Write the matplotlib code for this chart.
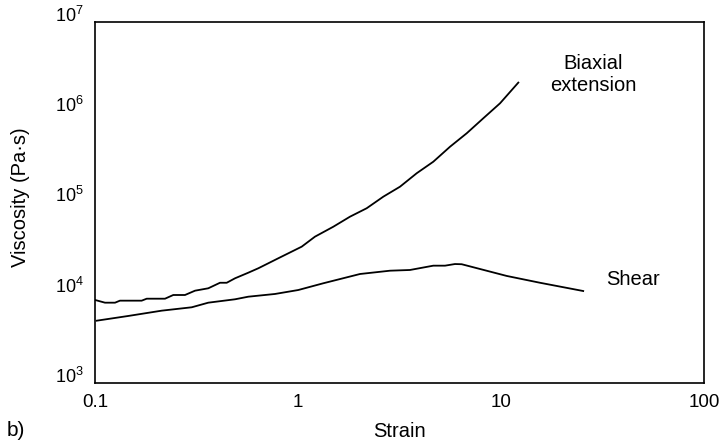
import matplotlib
matplotlib.use("Agg")
import matplotlib.pyplot as plt
import matplotlib.ticker as mticker

# fonts: helvetica-like look
plt.rcParams['font.family'] = ['Liberation Sans', 'DejaVu Sans']
plt.rcParams['mathtext.fontset'] = 'custom'
plt.rcParams['mathtext.rm'] = 'Liberation Sans'
plt.rcParams['mathtext.it'] = 'Liberation Sans'
plt.rcParams['mathtext.bf'] = 'Liberation Sans'

# ---- data ----
biax_strain = [0.100, 0.112, 0.1255, 0.1327, 0.1698, 0.1798, 0.2212, 0.243,
               0.2775, 0.311, 0.3614, 0.4128, 0.4455, 0.4894, 0.5689, 0.6374,
               0.714, 0.800, 0.896, 1.043, 1.212, 1.493, 1.803, 2.179, 2.632,
               3.18, 3.845, 4.64, 5.61, 6.78, 8.18, 9.89, 12.17]
biax_visc = [8.32e3, 7.76e3, 7.76e3, 8.17e3, 8.17e3, 8.59e3, 8.59e3, 9.44e3,
             9.44e3, 1.054e4, 1.12e4, 1.29e4, 1.29e4, 1.445e4, 1.667e4, 1.866e4,
             2.12e4, 2.41e4, 2.735e4, 3.24e4, 4.18e4, 5.39e4, 6.96e4, 8.63e4, 1.16e5,
             1.496e5, 2.11e5, 2.83e5, 4.15e5, 5.85e5, 8.57e5, 1.256e6, 2.13e6]

shear_strain = [0.1019, 0.1459, 0.2131, 0.2996, 0.3614, 0.4894, 0.5689, 0.770,
                1.003, 1.332, 2.02, 2.84, 3.56, 4.64, 5.30, 5.93, 6.40, 10.67,
                15.56, 25.4]
shear_visc = [4.90e3, 5.53e3, 6.33e3, 6.90e3, 7.76e3, 8.46e3, 9.04e3, 9.69e3,
              1.072e4, 1.273e4, 1.613e4, 1.755e4, 1.787e4, 1.995e4, 1.995e4,
              2.08e4, 2.07e4, 1.535e4, 1.29e4, 1.045e4]

xticks = [0.1, 1, 10, 100]
xtick_labels = ['0.1', '1', '10', '100']
yticks = [1e3, 1e4, 1e5, 1e6, 1e7]
ytick_labels = [r'$10^3$', r'$10^4$', r'$10^5$', r'$10^6$', r'$10^7$']

# ---- plotting ----
fig = plt.figure(figsize=(7.24, 4.44), dpi=100)
ax = fig.add_axes([0.1312, 0.1374, 0.8412, 0.8131])

ax.plot(biax_strain, biax_visc, color='black', linewidth=1.3)
ax.plot(shear_strain, shear_visc, color='black', linewidth=1.3)

ax.set_xscale('log')
ax.set_yscale('log')
ax.set_xlim(0.1, 100)
ax.set_ylim(1e3, 1e7)

ax.xaxis.set_major_locator(mticker.FixedLocator(xticks))
ax.xaxis.set_minor_locator(mticker.NullLocator())
ax.yaxis.set_major_locator(mticker.FixedLocator(yticks))
ax.yaxis.set_minor_locator(mticker.NullLocator())
ax.set_xticklabels(xtick_labels)
ax.set_yticklabels(ytick_labels, va='baseline', fontsize=13)

ax.tick_params(axis='both', length=0, colors='black')
ax.tick_params(axis='x', pad=8, labelsize=13.5)
ax.tick_params(axis='y', pad=8)

for s in ax.spines.values():
    s.set_linewidth(1.2)

ax.set_xlabel('Strain', fontsize=14.5, labelpad=8)
ax.set_ylabel('Viscosity (Pa\u00b7s)', fontsize=14.5, va='center')
ax.yaxis.set_label_coords(-0.123, 0.514)

# curve labels (pixel positions measured from top of the image)
ax.text(593, 444 - 74, 'Biaxial\nextension', transform=None, fontsize=14.5,
        ha='center', va='center', linespacing=1.2)
ax.text(633, 444 - 279, 'Shear', transform=None, fontsize=14.5,
        ha='center', va='center')

fig.text(7 / 724, 1 - 430 / 444, 'b)', fontsize=15, ha='left', va='center')

plt.savefig('out.png', dpi=100)
